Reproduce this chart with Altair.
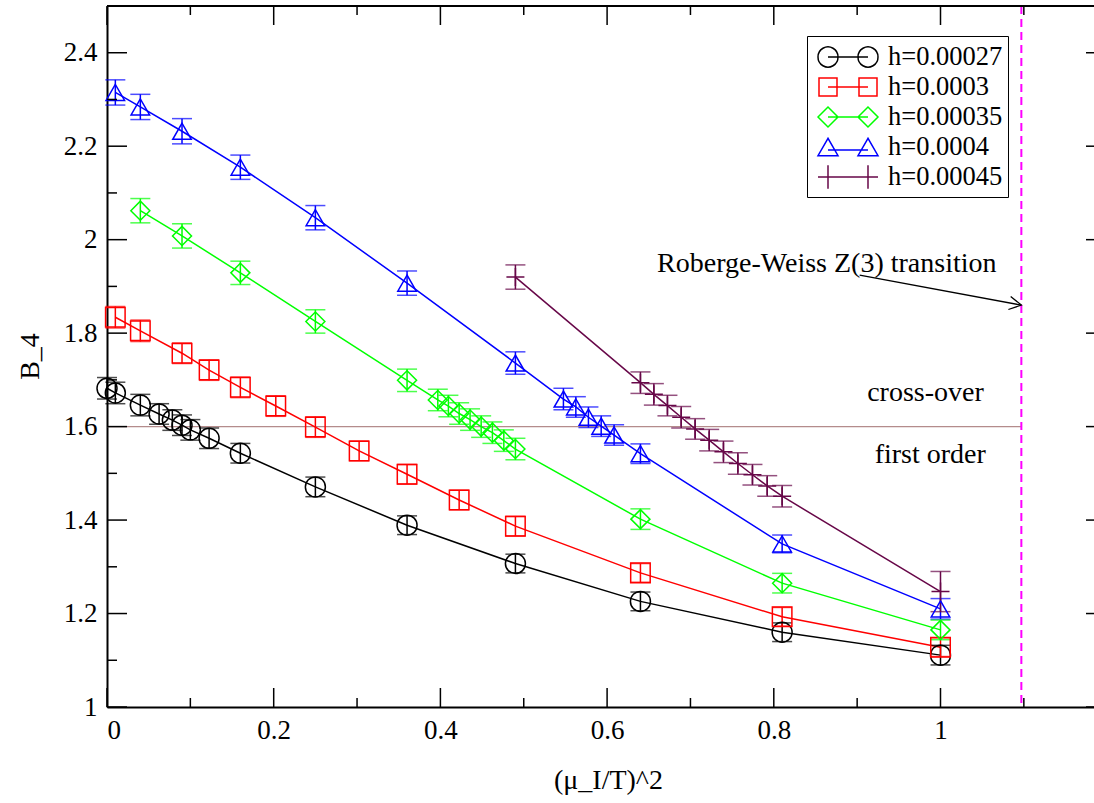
import altair as alt
import pandas as pd

# ---------------- data ----------------
series_names = ["h=0.00027", "h=0.0003", "h=0.00035", "h=0.0004", "h=0.00045"]
series_colors = ["#000000", "#ff0000", "#00ff00", "#0000ff", "#670748"]

x_black = [0.0, 0.01, 0.04, 0.0625, 0.0784, 0.09, 0.1, 0.1225, 0.16, 0.25, 0.36, 0.49, 0.64, 0.81, 1.0]
y_black = [1.682, 1.672, 1.646, 1.627, 1.614, 1.603, 1.593, 1.575, 1.543, 1.471, 1.389, 1.307, 1.226, 1.160, 1.111]
e_black = [0.023, 0.023, 0.023, 0.022, 0.022, 0.022, 0.022, 0.022, 0.021, 0.021, 0.020, 0.020, 0.020, 0.020, 0.021]

x_red = [0.01, 0.04, 0.09, 0.1225, 0.16, 0.2025, 0.25, 0.3025, 0.36, 0.4225, 0.49, 0.64, 0.81, 1.0]
y_red = [1.834, 1.805, 1.757, 1.721, 1.684, 1.644, 1.599, 1.548, 1.498, 1.443, 1.387, 1.287, 1.193, 1.128]
e_red = [0.023, 0.023, 0.022, 0.022, 0.022, 0.022, 0.022, 0.021, 0.021, 0.021, 0.021, 0.020, 0.020, 0.020]

x_green = [0.04, 0.09, 0.16, 0.25, 0.36, 0.3969, 0.4096, 0.4225, 0.4356, 0.4489, 0.4624, 0.4761, 0.49, 0.64, 0.81, 1.0]
y_green = [2.062, 2.008, 1.929, 1.825, 1.699, 1.657, 1.644, 1.628, 1.615, 1.600, 1.587, 1.570, 1.552, 1.402, 1.265, 1.165]
e_green = [0.026, 0.026, 0.025, 0.025, 0.024, 0.023, 0.023, 0.023, 0.023, 0.023, 0.023, 0.023, 0.023, 0.022, 0.021, 0.021]

x_blue = [0.01, 0.04, 0.09, 0.16, 0.25, 0.36, 0.49, 0.5476, 0.5625, 0.5776, 0.5929, 0.6084, 0.64, 0.81, 1.0]
y_blue = [2.315, 2.284, 2.232, 2.155, 2.047, 1.907, 1.736, 1.659, 1.642, 1.620, 1.601, 1.582, 1.542, 1.349, 1.210]
e_blue = [0.027, 0.027, 0.027, 0.026, 0.026, 0.026, 0.024, 0.023, 0.022, 0.022, 0.022, 0.022, 0.021, 0.019, 0.022]

x_purple = [0.49, 0.64, 0.6561, 0.6724, 0.6889, 0.7056, 0.7225, 0.7396, 0.7569, 0.7744, 0.7921, 0.81, 1.0]
y_purple = [1.920, 1.694, 1.669, 1.645, 1.620, 1.595, 1.571, 1.546, 1.521, 1.497, 1.473, 1.451, 1.247]
e_purple = [0.026, 0.023, 0.023, 0.022, 0.023, 0.022, 0.023, 0.023, 0.023, 0.022, 0.022, 0.023, 0.043]

crossover_level = 1.6
rw_position = 1.097

x_tick_values = [0.0, 0.2, 0.4, 0.6, 0.8, 1.0]
x_minor_values = [0.1, 0.3, 0.5, 0.7, 0.9, 1.1]
y_tick_values = [1.0, 1.2, 1.4, 1.6, 1.8, 2.0, 2.2, 2.4]
y_minor_values = [1.1, 1.3, 1.5, 1.7, 1.9, 2.1, 2.3]

ann_text = ["Roberge-Weiss Z(3) transition", "cross-over", "first order"]
ann_x = [0.660, 0.912, 0.921]
ann_y = [1.931, 1.655, 1.522]
arrow_x = [0.903, rw_position]
arrow_y = [1.924, 1.860]

# ---------------- build tables ----------------
all_x = [x_black, x_red, x_green, x_blue, x_purple]
all_y = [y_black, y_red, y_green, y_blue, y_purple]
all_e = [e_black, e_red, e_green, e_blue, e_purple]
rows = []
for name, xs, ys, es in zip(series_names, all_x, all_y, all_e):
    for xv, yv, ev in zip(xs, ys, es):
        rows.append({"series": name, "x": xv, "y": yv, "lo": yv - ev, "hi": yv + ev})
df = pd.DataFrame(rows)

FONT = "Liberation Serif"
FS = 27
W, H = 987, 701
XMAX = W / 833.5

xscale = alt.Scale(domain=[0, XMAX], nice=False, zero=False)
yscale = alt.Scale(domain=[1.0, 2.5], nice=False, zero=False)

x_axis = alt.Axis(values=x_tick_values, format="~g", title="(μ_I/T)^2",
                  titleX=501, titleY=81, titleBaseline="alphabetic", titleAlign="center")
y_axis = alt.Axis(values=y_tick_values, format="~g", title="B_4",
                  titleX=-77, titleY=350, titleAngle=-90, titleBaseline="middle", titleAlign="center")


def X(field="x:Q"):
    return alt.X(field, scale=xscale, axis=x_axis)


def Y(field="y:Q"):
    return alt.Y(field, scale=yscale, axis=y_axis)


color_enc = alt.Color("series:N", scale=alt.Scale(domain=series_names, range=series_colors), legend=None)

data_shapes = ["circle", "square", "diamond", "triangle-up", "M-1,0L1,0M0,-1L0,1"]
data_sizes = [400, 324, 400, 400, 400]

lines = alt.Chart(df).mark_line(strokeWidth=1.5).encode(
    x=X(), y=Y(), color=color_enc, detail="series:N", order="x:Q")
errs = alt.Chart(df).mark_rule(strokeWidth=1.5).encode(
    x=X(), y=Y("lo:Q"), y2="hi:Q", color=color_enc)
caps_lo = alt.Chart(df).mark_tick(orient="horizontal", size=20, thickness=1.5).encode(
    x=X(), y=Y("lo:Q"), color=color_enc)
caps_hi = alt.Chart(df).mark_tick(orient="horizontal", size=20, thickness=1.5).encode(
    x=X(), y=Y("hi:Q"), color=color_enc)
points = alt.Chart(df).mark_point(filled=False, strokeWidth=1.5, opacity=1).encode(
    x=X(), y=Y(), color=color_enc,
    shape=alt.Shape("series:N", scale=alt.Scale(domain=series_names, range=data_shapes), legend=None),
    size=alt.Size("series:N", scale=alt.Scale(domain=series_names, range=data_sizes), legend=None))

# reference lines
hline = alt.Chart(pd.DataFrame({"y": [crossover_level], "x": [0.0], "x2": [rw_position]})).mark_rule(
    color="#b48c8c", strokeWidth=1.3).encode(x=X(), x2="x2:Q", y=Y())
vline = alt.Chart(pd.DataFrame({"x": [rw_position]})).mark_rule(
    color="#ff00ff", strokeWidth=2, strokeDash=[8, 5]).encode(x=X())

# annotations
ann = alt.Chart(pd.DataFrame({"x": ann_x, "y": ann_y, "t": ann_text})).mark_text(
    align="left", baseline="alphabetic", font=FONT, fontSize=28, color="black").encode(x=X(), y=Y(), text="t:N")
arrow = alt.Chart(pd.DataFrame({"x": [arrow_x[0]], "x2": [arrow_x[1]], "y": [arrow_y[0]], "y2": [arrow_y[1]]})).mark_rule(
    color="black", strokeWidth=1.3).encode(x=X(), x2="x2:Q", y=Y(), y2="y2:Q")
head = alt.Chart(pd.DataFrame({"x": [arrow_x[1]], "y": [arrow_y[1]]})).mark_point(
    shape="M-1,-0.55L0,0L-1,0.55", size=576, filled=False, color="black", strokeWidth=1.3, angle=10, opacity=1
).encode(x=X(), y=Y())

# inward ticks on all four sides
tick_col = "black"
yl_major = alt.Chart(pd.DataFrame({"y": y_tick_values})).mark_rule(color=tick_col, strokeWidth=1.5).encode(
    y=Y(), x=alt.value(0), x2=alt.value(20))
yl_minor = alt.Chart(pd.DataFrame({"y": y_minor_values})).mark_rule(color=tick_col, strokeWidth=1.5).encode(
    y=Y(), x=alt.value(0), x2=alt.value(10))
yr_major = alt.Chart(pd.DataFrame({"y": y_tick_values})).mark_rule(color=tick_col, strokeWidth=1.5).encode(
    y=Y(), x=alt.value(W - 8), x2=alt.value(W))
xb_major = alt.Chart(pd.DataFrame({"x": x_tick_values})).mark_rule(color=tick_col, strokeWidth=1.5).encode(
    x=X(), y=alt.value(H), y2=alt.value(H - 19))
xb_minor = alt.Chart(pd.DataFrame({"x": x_minor_values})).mark_rule(color=tick_col, strokeWidth=1.5).encode(
    x=X(), y=alt.value(H), y2=alt.value(H - 9))
xt_major = alt.Chart(pd.DataFrame({"x": x_tick_values})).mark_rule(color=tick_col, strokeWidth=1.5).encode(
    x=X(), y=alt.value(0), y2=alt.value(19))
xt_minor = alt.Chart(pd.DataFrame({"x": x_minor_values})).mark_rule(color=tick_col, strokeWidth=1.5).encode(
    x=X(), y=alt.value(0), y2=alt.value(9))
top_border = alt.Chart(pd.DataFrame({"a": [0]})).mark_rule(color="black", strokeWidth=2).encode(
    x=alt.value(0), x2=alt.value(W), y=alt.value(0))

main = alt.layer(hline, vline, lines, errs, caps_lo, caps_hi, points, ann, arrow, head,
                 yl_major, yl_minor, yr_major, xb_major, xb_minor, xt_major, xt_minor, top_border)

# legend: marker-line-marker symbols as custom paths
legend_paths = [
    "M-2,0A0.6667,0.6667 0 1,0 -0.6667,0A0.6667,0.6667 0 1,0 -2,0Z"
    "M0.6667,0A0.6667,0.6667 0 1,0 2,0A0.6667,0.6667 0 1,0 0.6667,0Z"
    "M-1.3333,0L1.3333,0",
    "M-1.9333,-0.6L-0.7333,-0.6L-0.7333,0.6L-1.9333,0.6Z"
    "M0.7333,-0.6L1.9333,-0.6L1.9333,0.6L0.7333,0.6Z"
    "M-1.3333,0L1.3333,0",
    "M-2,0L-1.3333,-0.6667L-0.6667,0L-1.3333,0.6667Z"
    "M0.6667,0L1.3333,-0.6667L2,0L1.3333,0.6667Z"
    "M-1.3333,0L1.3333,0",
    "M-1.3333,-0.5774L-2,0.5774L-0.6667,0.5774Z"
    "M1.3333,-0.5774L0.6667,0.5774L2,0.5774Z"
    "M-1.3333,0.2L1.3333,0.2",
    "M-1.3333,-0.78L-1.3333,0.78M1.3333,-0.78L1.3333,0.78M-2,0L2,0",
]
leg = alt.Legend(orient="none", legendX=700, legendY=30, title=None,
                 labelFont=FONT, labelFontSize=26.5, labelColor="black",
                 symbolSize=900, symbolStrokeWidth=1.5, symbolOffset=20, labelOffset=24,
                 strokeColor="black", fillColor="white", padding=5, rowPadding=0)
legend_layer = alt.Chart(pd.DataFrame({"series": series_names})).mark_point(
    filled=False, size=900, strokeWidth=1.5, clip=True, opacity=1).encode(
    x=alt.value(-300), y=alt.value(-300),
    color=alt.Color("series:N", scale=alt.Scale(domain=series_names, range=series_colors), legend=leg),
    shape=alt.Shape("series:N", scale=alt.Scale(domain=series_names, range=legend_paths), legend=leg))

chart = alt.layer(main, legend_layer).resolve_scale(
    color="independent", shape="independent"
).properties(
    width=W, height=H,
    padding={"left": 107, "top": 6, "right": 0, "bottom": 90},
    autosize=alt.AutoSizeParams(type="none"),
    background="white",
).configure_view(stroke=None).configure_axis(
    labelFont=FONT, labelFontSize=FS, labelColor="black",
    titleFont=FONT, titleFontSize=28, titleFontWeight="normal", titleColor="black",
    domainColor="black", domainWidth=2, ticks=False, tickSize=0, grid=False,
    labelPadding=10,
).configure_axisX(labelPadding=10)

chart.save("out.html", embed_options={"renderer": "svg", "actions": False})
